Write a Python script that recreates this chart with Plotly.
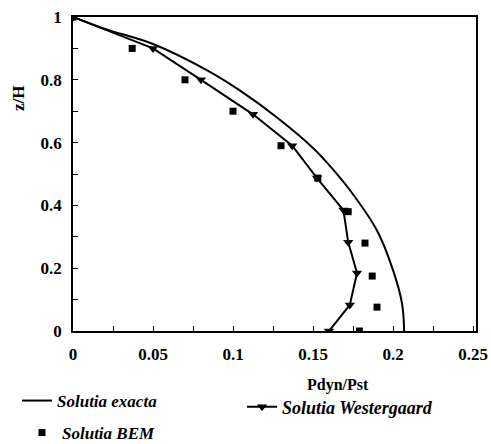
import plotly.graph_objects as go

# Exact solution
exact_x = [0.0, 0.02, 0.05, 0.085, 0.104, 0.1275, 0.15, 0.16, 0.173, 0.19, 0.2, 0.2056, 0.207]
exact_y = [1.0, 0.962, 0.914, 0.827, 0.767, 0.68, 0.583, 0.529, 0.449, 0.32, 0.194, 0.089, 0.0]

# Westergaard solution
west_x = [0.0, 0.05, 0.08, 0.1125, 0.137, 0.1525, 0.169, 0.172, 0.1775, 0.173, 0.16]
west_y = [1.0, 0.9, 0.8, 0.69, 0.59, 0.487, 0.385, 0.283, 0.185, 0.083, 0.0]

# BEM solution
bem_x = [0.0, 0.037, 0.07, 0.1, 0.13, 0.153, 0.172, 0.1825, 0.187, 0.19, 0.179]
bem_y = [1.0, 0.9, 0.8, 0.7, 0.59, 0.487, 0.38, 0.28, 0.175, 0.076, 0.0]

x_ticks = [0, 0.05, 0.1, 0.15, 0.2, 0.25]
x_tick_text = ["0", "0.05", "0.1", "0.15", "0.2", "0.25"]
y_ticks = [0, 0.2, 0.4, 0.6, 0.8, 1]
y_tick_text = ["0", "0.2", "0.4", "0.6", "0.8", "1"]

FONT = "Liberation Serif"
W, H = 491, 444
L, R, T, B = 73, 15, 17, 113
plot_w = W - L - R
plot_h = H - T - B

def px_x(p):
    return (p - L) / plot_w

def px_y(p):
    return (H - B - p) / plot_h

leg_font = dict(family=FONT, size=17, color="black", style="italic", weight="bold")

fig = go.Figure()
fig.add_trace(go.Scatter(
    x=exact_x, y=exact_y, mode="lines", name="Solutia exacta",
    line=dict(color="black", width=2, shape="spline", smoothing=1.0),
    legend="legend",
))
fig.add_trace(go.Scatter(
    x=west_x, y=west_y, mode="lines+markers", name="Solutia Westergaard",
    line=dict(color="black", width=2),
    marker=dict(symbol="triangle-down", size=9, color="black"),
    legend="legend2",
))
fig.add_trace(go.Scatter(
    x=bem_x, y=bem_y, mode="markers", name="Solutia BEM",
    marker=dict(symbol="square", size=7, color="black"),
    legend="legend3",
))

tick_font = dict(family=FONT, size=17, color="black", weight="bold")

fig.update_layout(
    width=W, height=H,
    margin=dict(l=L, r=R, t=T, b=B, autoexpand=False),
    paper_bgcolor="white", plot_bgcolor="white",
    showlegend=True,
    xaxis=dict(
        range=[0, 0.25 * plot_w / 400], tickvals=x_ticks, ticktext=x_tick_text,
        ticks="inside", ticklen=5, tickwidth=1, tickcolor="black",
        minor=dict(dtick=0.025, ticks="inside", ticklen=5, tickcolor="black"),
        showline=True, linecolor="black", linewidth=1.5, mirror=True,
        showgrid=False, zeroline=False, tickfont=tick_font,
        ticklabelstandoff=7, automargin=False,
    ),
    yaxis=dict(
        range=[0, 1], tickvals=y_ticks, ticktext=y_tick_text,
        ticks="inside", ticklen=5, tickwidth=1, tickcolor="black",
        minor=dict(dtick=0.1, ticks="inside", ticklen=5, tickcolor="black"),
        showline=True, linecolor="black", linewidth=1.5, mirror=True,
        showgrid=False, zeroline=False, tickfont=tick_font,
        ticklabelstandoff=6, automargin=False,
    ),
    legend=dict(x=px_x(17), y=px_y(401), xanchor="left", yanchor="middle",
                font=leg_font, bgcolor="rgba(0,0,0,0)"),
    legend2=dict(x=px_x(242), y=px_y(407), xanchor="left", yanchor="middle",
                 font=dict(family=FONT, size=18, color="black", style="italic", weight="bold"),
                 bgcolor="rgba(0,0,0,0)"),
    legend3=dict(x=px_x(22), y=px_y(433), xanchor="left", yanchor="middle",
                 font=leg_font, bgcolor="rgba(0,0,0,0)"),
    annotations=[
        dict(text="Pdyn/Pst", x=px_x(338), y=px_y(385), xref="paper", yref="paper",
             showarrow=False, xanchor="center", yanchor="middle",
             font=dict(family=FONT, size=16, color="black", weight="bold")),
        dict(text="z/H", x=px_x(18), y=px_y(98), xref="paper", yref="paper",
             showarrow=False, xanchor="center", yanchor="middle", textangle=-90,
             font=dict(family=FONT, size=17, color="black", weight="bold")),
    ],
)

fig.write_html(
    "out.html",
    config={"displayModeBar": False},
    post_script="document.body.style.margin='0px';document.body.style.padding='0px';",
)
